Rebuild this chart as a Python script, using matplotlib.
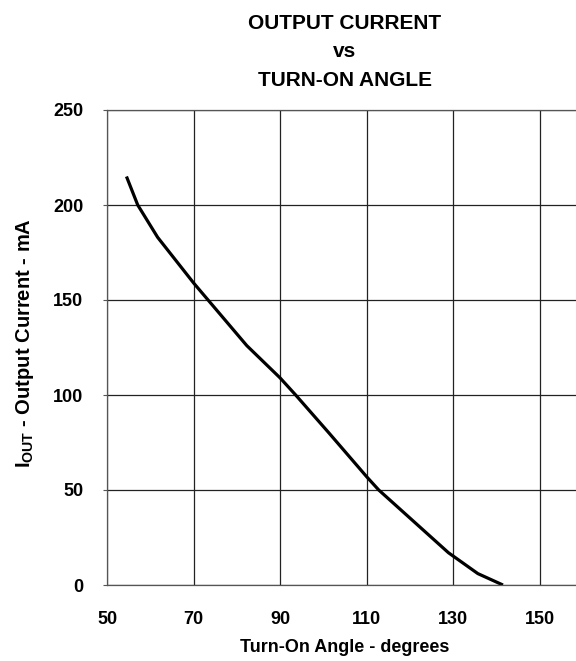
import numpy as np
import matplotlib
matplotlib.use("Agg")
import matplotlib.pyplot as plt

plt.rcParams['font.family'] = ['Liberation Sans', 'DejaVu Sans']
plt.rcParams['font.weight'] = 'bold'
plt.rcParams['mathtext.fontset'] = 'custom'
plt.rcParams['mathtext.rm'] = 'Liberation Sans:bold'
plt.rcParams['mathtext.bf'] = 'Liberation Sans:bold'

# turn-on angle (degrees) vs output current (mA)
angle = [54.5, 57.1, 61.7, 70.0, 82.3, 90.0, 93.6, 101.3, 110.0, 112.8, 128.9, 135.7, 141.5]
current = [215, 200, 183, 159, 126, 109, 100, 80, 57, 50, 17, 6, 0]

xticks = [50, 70, 90, 110, 130, 150]
yticks = [0, 50, 100, 150, 200, 250]
title_lines = ['OUTPUT CURRENT', 'vs', 'TURN-ON ANGLE']

fig = plt.figure(figsize=(5.76, 6.61), dpi=100)
ax = fig.add_axes([107 / 576, 76 / 661, 476 / 576, 475 / 661])

ax.plot(angle, current, color='black', lw=2.3, solid_capstyle='butt')

ax.set_xlim(50, 160)
ax.set_ylim(0, 250)
ax.set_xticks(xticks)
ax.set_yticks(yticks)
ax.grid(True, color='#222222', lw=0.9)
for s in ax.spines.values():
    s.set_color('#555555')
    s.set_linewidth(0.9)
ax.tick_params(axis='x', length=0, pad=19, labelsize=13)
ax.tick_params(axis='y', length=3, pad=14, labelsize=13, color='#555555')

ax.set_xlabel('Turn-On Angle - degrees', fontsize=13, fontweight='bold', va='baseline')
ax.xaxis.set_label_coords(0.5, (9 - 76) / 475)
ax.set_ylabel(r'I$_{\mathrm{OUT}}$ - Output Current - mA', fontsize=14.5, fontweight='bold', va='center')
ax.yaxis.set_label_coords((25 - 107) / 476, 0.51)

# title: three centred lines over the plot area
for line, base in zip(title_lines, [28.7, 57, 86]):
    fig.text(345 / 576, 1 - base / 661, line, ha='center', va='baseline',
             fontsize=15, fontweight='bold')

fig.savefig('out.png', dpi=100)
